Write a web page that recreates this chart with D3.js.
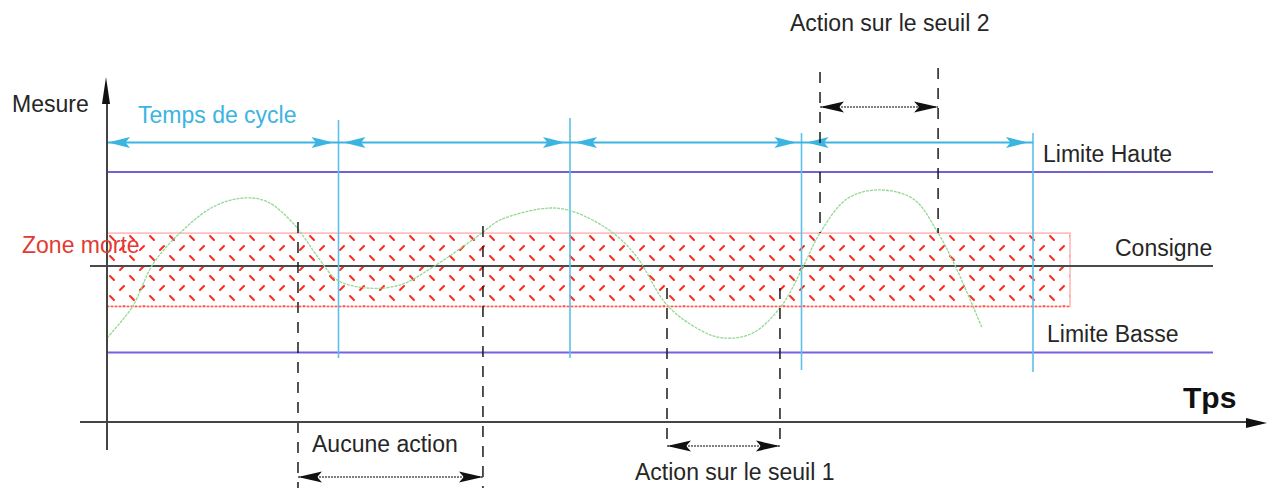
<!DOCTYPE html>
<html>
<head>
<meta charset="utf-8">
<title>Zone morte</title>
<script src="https://d3js.org/d3.v7.min.js"></script>
<style>
  body { margin: 0; background: #ffffff; }
  svg { display: block; font-family: 'Liberation Sans', Arial, sans-serif; }
</style>
</head>
<body>
<svg id="chart"></svg>
<script>
// cycle boundaries (in cycle units)
const cycles = [0, 1, 2, 3, 4];
// horizontal levels (measure units, consigne = 0)
const levelNames = ["Limite Haute", "Consigne", "Limite Basse"];
const levelValues = [100, 0, -92];
const levelLabelX = [1043, 1115, 1047];
// dead band around the set point
const deadZone = [-43, 35];
const deadZoneEnd = 4.16;
// measured signal
const mesureT = [0, 0.056, 0.112, 0.199, 0.315, 0.458, 0.587, 0.691, 0.803, 0.920, 0.994,
  1.123, 1.266, 1.408, 1.620, 1.698, 1.914, 2.030, 2.186, 2.289, 2.419, 2.562, 2.661, 2.790,
  2.916, 3.006, 3.080, 3.197, 3.330, 3.482, 3.590, 3.672, 3.780];
const mesureV = [-76.6, -60.6, -42.6, 2.1, 35.1, 62.8, 72.3, 68.5, 45.7, 6.4, -14.9,
  -23.4, -20.2, -1.1, 35.1, 48.9, 61.7, 56.4, 35.1, 9.6, -41.5, -68.1, -76.6, -71.3,
  -41.5, -1.1, 35.1, 71.5, 80.9, 71.5, 35.1, -4.3, -66.0];
// threshold crossings
const eventT = [0.825, 1.624, 2.419, 2.907, 3.080, 3.590];

const width = 1267, height = 488;
const svg = d3.select("#chart").attr("width", width).attr("height", height);

const x = d3.scaleLinear().domain([0, 4]).range([107, 1033]);
const y = d3.scaleLinear().domain([-100, 100]).range([360, 172]);

const ink = "#262626";
const cyan = "#3cb4e2";

// hatch pattern for the dead zone
const defs = svg.append("defs");
const pat = defs.append("pattern")
  .attr("id", "hatch").attr("patternUnits", "userSpaceOnUse")
  .attr("width", 20).attr("height", 20)
  .attr("x", 107).attr("y", 234);
[[3, 2, 7, 6], [17, 12, 13, 16]].forEach(d => {
  pat.append("line")
    .attr("x1", d[0]).attr("y1", d[1]).attr("x2", d[2]).attr("y2", d[3])
    .attr("stroke", "#ff2a1a").attr("stroke-width", 2).attr("stroke-linecap", "round");
});

function head(g, tipX, yy, dir, len, hw, color) {
  // dir = -1 points left, 1 points right
  const b = tipX - dir * len;
  g.append("path")
    .attr("d", `M${tipX},${yy} L${b},${yy - hw} L${b + dir * len * 0.2},${yy} L${b},${yy + hw} Z`)
    .attr("fill", color);
}

function dimArrow(t0, t1, yy) {
  const g = svg.append("g");
  g.append("line")
    .attr("x1", x(t0)).attr("x2", x(t1)).attr("y1", yy).attr("y2", yy)
    .attr("stroke", "#555").attr("stroke-width", 1.3).attr("stroke-dasharray", "2,1");
  head(g, x(t0), yy, -1, 24, 5.5, "#111");
  head(g, x(t1), yy, 1, 24, 5.5, "#111");
}

// dead zone
svg.append("rect")
  .attr("x", x(0)).attr("y", y(deadZone[1]))
  .attr("width", x(deadZoneEnd) - x(0)).attr("height", y(deadZone[0]) - y(deadZone[1]))
  .attr("fill", "url(#hatch)")
  .attr("stroke", "#ffb4b4").attr("stroke-width", 1.5);
svg.append("line")
  .attr("x1", x(0)).attr("x2", x(deadZoneEnd)).attr("y1", y(deadZone[0])).attr("y2", y(deadZone[0]))
  .attr("stroke", "#ff5a44").attr("stroke-width", 1.5).attr("stroke-dasharray", "2,2");

// levels
const levelColors = ["#7660d2", "#4a4a4a", "#7c5ee0"];
levelValues.forEach((v, i) => {
  svg.append("line")
    .attr("x1", i === 1 ? 90 : x(0)).attr("x2", 1213)
    .attr("y1", y(v)).attr("y2", y(v))
    .attr("stroke", levelColors[i]).attr("stroke-width", 2);
  svg.append("text")
    .attr("x", levelLabelX[i]).attr("y", y(v) - 10)
    .attr("font-size", 23).attr("fill", ink)
    .text(levelNames[i]);
});

// cycle boundaries
const cycTop = [0, 120, 118, 133, 133];
const cycBot = [0, 358, 358, 370, 372];
cycles.slice(1).forEach((c, i) => {
  svg.append("line")
    .attr("x1", x(c)).attr("x2", x(c))
    .attr("y1", cycTop[i + 1]).attr("y2", cycBot[i + 1])
    .attr("stroke", "#5cc0ea").attr("stroke-width", 1.6);
});

// cycle arrow
const cycY = 142.5;
svg.append("line")
  .attr("x1", x(cycles[0])).attr("x2", x(cycles[cycles.length - 1]))
  .attr("y1", cycY).attr("y2", cycY)
  .attr("stroke", cyan).attr("stroke-width", 2);
const cg = svg.append("g");
d3.pairs(cycles).forEach(([a, b], i) => {
  head(cg, x(a) + (i === 0 ? 1 : 5), cycY, -1, 22, 5.5, cyan);
  head(cg, x(b) - 5, cycY, 1, 22, 5.5, cyan);
});

// measured signal
const line = d3.line()
  .x((d, i) => x(mesureT[i])).y((d, i) => y(mesureV[i]))
  .curve(d3.curveCatmullRom.alpha(0.5));
svg.append("path")
  .attr("d", line(mesureT))
  .attr("fill", "none").attr("stroke", "#94d894").attr("stroke-width", 1.3)
  .attr("stroke-dasharray", "3,1");

// event dashed verticals
const evTop = [222, 226, 288, 288, 72, 68];
const evBot = [488, 488, 447, 447, 233, 233];
eventT.forEach((t, i) => {
  svg.append("line")
    .attr("x1", x(t)).attr("x2", x(t)).attr("y1", evTop[i]).attr("y2", evBot[i])
    .attr("stroke", "#1a1a1a").attr("stroke-width", 1.5).attr("stroke-dasharray", "11,9");
});

// axes
svg.append("line").attr("x1", x(0)).attr("x2", x(0)).attr("y1", 100).attr("y2", 450)
  .attr("stroke", "#444").attr("stroke-width", 2);
svg.append("path").attr("d", `M${x(0) - 1},77 L${x(0) - 5},104 L${x(0) + 3},104 Z`).attr("fill", "#111");
svg.append("line").attr("x1", 80).attr("x2", 1250).attr("y1", 422).attr("y2", 422)
  .attr("stroke", "#444").attr("stroke-width", 2);
svg.append("path").attr("d", `M1267,423 L1246,418 L1246,428 Z`).attr("fill", "#111");

// dimension arrows
dimArrow(eventT[0], eventT[1], 477);
dimArrow(eventT[2], eventT[3], 446);
dimArrow(eventT[4], eventT[5], 107);

// labels
const labels = [
  { t: "Mesure", x: 12, y: 112, c: ink },
  { t: "Temps de cycle", x: 138, y: 123, c: cyan },
  { t: "Zone morte", x: 22, y: 253, c: "#e23a32" },
  { t: "Aucune action", x: 312, y: 452, c: ink },
  { t: "Action sur le seuil 1", x: 635, y: 480, c: ink },
  { t: "Action sur le seuil 2", x: 790, y: 31, c: ink }
];
svg.selectAll(".lbl").data(labels).enter().append("text")
  .attr("class", "lbl")
  .attr("x", d => d.x).attr("y", d => d.y)
  .attr("font-size", 23).attr("fill", d => d.c)
  .text(d => d.t);
svg.append("text").attr("x", 1183).attr("y", 408)
  .attr("font-size", 30).attr("font-weight", "bold").attr("fill", "#111")
  .text("Tps");
</script>
</body>
</html>
